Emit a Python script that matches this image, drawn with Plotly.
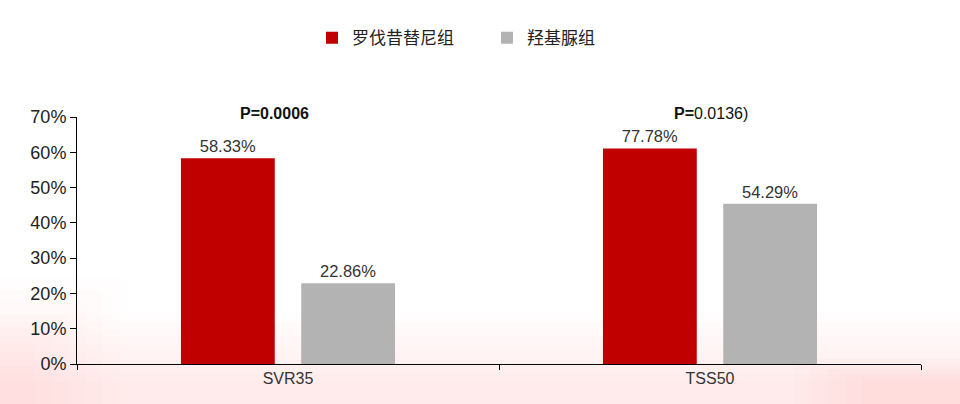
import plotly.graph_objects as go

categories = ["SVR35", "TSS50"]
series_names = ["罗伐昔替尼组", "羟基脲组"]
# bar heights as drawn in the picture (%)
ruxo_values = [58.33, 61.1]
hu_values = [22.86, 45.4]
# label texts as printed
ruxo_labels = ["58.33%", "77.78%"]
hu_labels = ["22.86%", "54.29%"]
p_labels = ["<b>P=0.0006</b>", "<b>P=</b>0.0136)"]
y_ticks = [0, 10, 20, 30, 40, 50, 60, 70]
y_tick_labels = [f"{v}%" for v in y_ticks]

RED = "#C00000"
GRAY = "#B3B3B3"
FONT = "Liberation Sans, Arial, sans-serif"
CJK = "Noto Sans CJK SC, sans-serif"

fig = go.Figure()
fig.add_trace(go.Bar(
    x=categories, y=ruxo_values, name=series_names[0],
    marker=dict(color=RED, line=dict(width=0)),
    text=ruxo_labels, textposition="outside", cliponaxis=False,
    textfont=dict(family=FONT, size=16.5, color="#333333"),
))
fig.add_trace(go.Bar(
    x=categories, y=hu_values, name=series_names[1],
    marker=dict(color=GRAY, line=dict(width=0)),
    text=hu_labels, textposition="outside", cliponaxis=False,
    textfont=dict(family=FONT, size=16.5, color="#333333"),
))

# faint pink wash toward the bottom of the page
n = 10
for i in range(n):
    fig.add_shape(type="rect", xref="paper", yref="paper",
                  x0=-0.2, x1=1.1, y0=-0.2, y1=-0.1 + 0.03 * (n - i),
                  fillcolor="rgba(240,170,170,0.018)", line=dict(width=0),
                  layer="below")
for i in range(6):
    fig.add_shape(type="rect", xref="paper", yref="paper",
                  x0=-0.2, x1=0.05 - 0.02 * i, y0=-0.2, y1=0.35 - 0.05 * i,
                  fillcolor="rgba(240,170,170,0.025)", line=dict(width=0),
                  layer="below")
for i in range(5):
    fig.add_shape(type="rect", xref="paper", yref="paper",
                  x0=0.85 + 0.02 * i, x1=1.1, y0=-0.2, y1=0.02 - 0.02 * i,
                  fillcolor="rgba(240,170,170,0.03)", line=dict(width=0),
                  layer="below")

xshifts = [-50, -38]
for cat, txt, xs in zip(categories, p_labels, xshifts):
    fig.add_annotation(x=cat, y=70, xref="x", yref="y", text=txt,
                       showarrow=False, yshift=4, xshift=xs, xanchor="left",
                       font=dict(family=FONT, size=16, color="#111111"))

fig.update_layout(
    width=960, height=404,
    paper_bgcolor="white", plot_bgcolor="rgba(0,0,0,0)",
    margin=dict(l=77, r=39, t=117, b=40),
    barmode="group", bargap=0.43, bargroupgap=0.22,
    showlegend=True,
    legend=dict(orientation="h", x=(332 - 77 - 20) / 844, xanchor="left",
                y=0.95, yanchor="top", yref="container",
                font=dict(family=CJK, size=17, color="#222222"),
                itemwidth=30, entrywidth=130, entrywidthmode="pixels"),
    font=dict(family=FONT),
)
fig.update_yaxes(range=[0, 70], tickvals=y_ticks, ticktext=y_tick_labels,
                 showgrid=False, zeroline=False, showline=True,
                 linecolor="black", linewidth=1, ticks="outside",
                 ticklen=6, tickcolor="black",
                 tickfont=dict(family=FONT, size=18, color="#222222"))
fig.update_xaxes(showgrid=False, showline=True, linecolor="black", linewidth=1,
                 ticks="outside", tickson="boundaries", ticklen=5,
                 tickcolor="black",
                 tickfont=dict(family=FONT, size=16, color="#333333"))

fig.write_html("out.html", config={"displayModeBar": False},
               post_script="document.body.style.margin='0';document.body.style.padding='0';")
